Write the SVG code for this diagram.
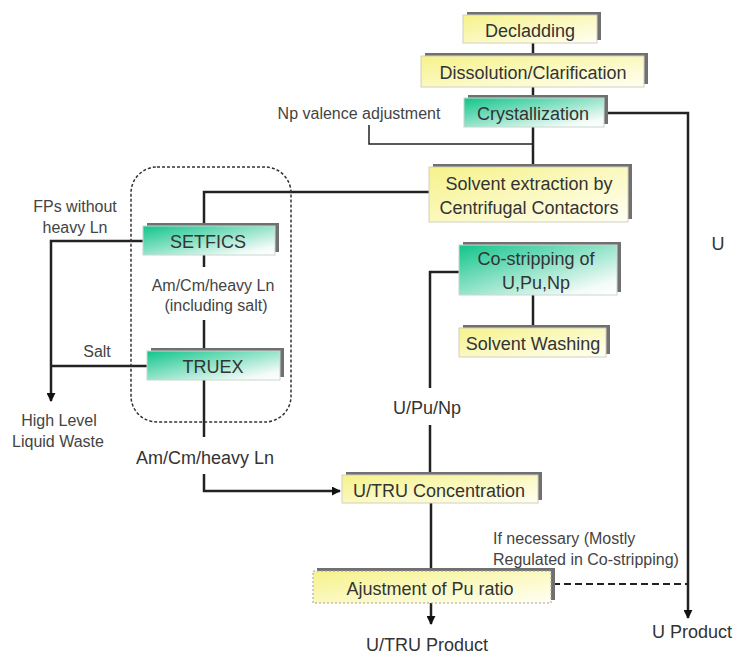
<svg xmlns="http://www.w3.org/2000/svg" width="735" height="654" viewBox="0 0 735 654">
<style>
.sh{fill:#707070}
.by{fill:url(#gy);stroke:#d0d0c0;stroke-width:1}
.bt{fill:url(#gt);stroke:#c8d8d0;stroke-width:1}
.bd{fill:url(#gy);stroke:#a0a0a0;stroke-width:1;stroke-dasharray:2 2}
.t{font-family:"Liberation Sans",Arial,sans-serif;font-size:18px;fill:#333;text-anchor:middle}
.s{font-family:"Liberation Sans",Arial,sans-serif;font-size:16px;fill:#444;text-anchor:middle}
.c{fill:none;stroke:#222;stroke-width:2.5}
</style>
<defs>
<linearGradient id="gy" x1="0" y1="0" x2="1" y2="1">
<stop offset="0" stop-color="#f6f28a"/>
<stop offset="1" stop-color="#fffff4"/>
</linearGradient>
<linearGradient id="gt" x1="0" y1="0" x2="1" y2="1">
<stop offset="0" stop-color="#10c48a"/>
<stop offset="0.85" stop-color="#f4fbf8"/>
<stop offset="1" stop-color="#ffffff"/>
</linearGradient>
<marker id="ar" viewBox="0 0 10 10" refX="9" refY="5" markerWidth="3.6" markerHeight="3.6" orient="auto" markerUnits="strokeWidth">
<path d="M0,0 L10,5 L0,10 z" fill="#111"/>
</marker>
</defs>
<rect width="735" height="654" fill="#fff"/>

<g id="connectors">
<path class="c" d="M533,43 V56"/>
<path class="c" d="M533,87 V98"/>
<path class="c" d="M533,127 V167"/>
<path class="c" style="stroke-width:1.5" d="M369,125 V144 H533"/>
<path class="c" d="M605,113 H688 V618" marker-end="url(#ar)"/>
<path class="c" d="M429,192 H204 V226"/>
<path class="c" d="M143,241 H51 V401" marker-end="url(#ar)"/>
<path class="c" d="M147,366 H51"/>
<path class="c" d="M204,255 V267"/>
<path class="c" d="M204,320 V351"/>
<path class="c" d="M204,380 V437"/>
<path class="c" d="M204,474 V491 H340" marker-end="url(#ar)"/>
<path class="c" d="M459,272 H430 V388"/>
<path class="c" d="M430,425 V475"/>
<path class="c" d="M431,503 V571"/>
<path class="c" d="M431,603 V624" marker-end="url(#ar)"/>
<path class="c" d="M533,295 V328"/>
<path class="c" style="stroke-width:2;stroke-dasharray:7 4" d="M553,584 H688"/>
</g>

<g id="group-box">
<rect x="131" y="167" width="160" height="255" rx="26" fill="none" stroke="#333" stroke-width="1.5" stroke-dasharray="3 2"/>
</g>

<g id="decladding">
<rect class="sh" x="467" y="12" width="134" height="28"/>
<rect class="by" x="463" y="15" width="134" height="28"/>
<text class="t" x="530" y="37">Decladding</text>
</g>
<g id="dissolution">
<rect class="sh" x="425" y="53" width="223" height="31"/>
<rect class="by" x="421" y="56" width="223" height="31"/>
<text class="t" x="533" y="79">Dissolution/Clarification</text>
</g>
<g id="crystallization">
<rect class="sh" x="468" y="95" width="140" height="29"/>
<rect class="bt" x="464" y="98" width="140" height="29"/>
<text class="t" x="533" y="120">Crystallization</text>
</g>
<g id="solvent-extraction">
<rect class="sh" x="433" y="164" width="199" height="55"/>
<rect class="by" x="429" y="167" width="199" height="55"/>
<text class="t" x="529" y="190">Solvent extraction by</text>
<text class="t" x="529" y="214">Centrifugal Contactors</text>
</g>
<g id="co-stripping">
<rect class="sh" x="463" y="242" width="158" height="50"/>
<rect class="bt" x="459" y="245" width="158" height="50"/>
<text class="t" x="536" y="265">Co-stripping of</text>
<text class="t" x="536" y="289">U,Pu,Np</text>
</g>
<g id="solvent-washing">
<rect class="sh" x="463" y="325" width="147" height="29"/>
<rect class="by" x="459" y="328" width="147" height="29"/>
<text class="t" x="533" y="350">Solvent Washing</text>
</g>
<g id="setfics">
<rect class="sh" x="147" y="223" width="132" height="29"/>
<rect class="bt" x="143" y="226" width="132" height="29"/>
<text class="t" x="208" y="248">SETFICS</text>
</g>
<g id="truex">
<rect class="sh" x="151" y="348" width="133" height="29"/>
<rect class="bt" x="147" y="351" width="133" height="29"/>
<text class="t" x="213" y="373">TRUEX</text>
</g>
<g id="utru-concentration">
<rect class="sh" x="346" y="472" width="196" height="28"/>
<rect class="by" x="342" y="475" width="196" height="28"/>
<text class="t" x="439" y="497">U/TRU Concentration</text>
</g>
<g id="ajustment">
<rect class="sh" x="317" y="568" width="238" height="32"/>
<rect class="bd" x="313" y="571" width="238" height="32"/>
<text class="t" x="430" y="595">Ajustment of Pu ratio</text>
</g>

<g id="labels">
<text class="s" x="359" y="119">Np valence adjustment</text>
<text class="s" x="75" y="212">FPs without</text>
<text class="s" x="75" y="233">heavy Ln</text>
<text class="s" x="97" y="357">Salt</text>
<text class="s" x="59" y="426">High Level</text>
<text class="s" x="58" y="447">Liquid Waste</text>
<text class="s" x="213" y="291">Am/Cm/heavy Ln</text>
<text class="s" x="216" y="311">(including salt)</text>
<text class="t" x="205" y="464">Am/Cm/heavy Ln</text>
<text class="t" x="427" y="414">U/Pu/Np</text>
<text class="t" x="427" y="651">U/TRU Product</text>
<text class="t" x="692" y="638">U Product</text>
<text class="t" x="718" y="250">U</text>
<text class="s" x="493" y="544" style="text-anchor:start">If necessary (Mostly</text>
<text class="s" x="493" y="565" style="text-anchor:start">Regulated in Co-stripping)</text>
</g>
</svg>
